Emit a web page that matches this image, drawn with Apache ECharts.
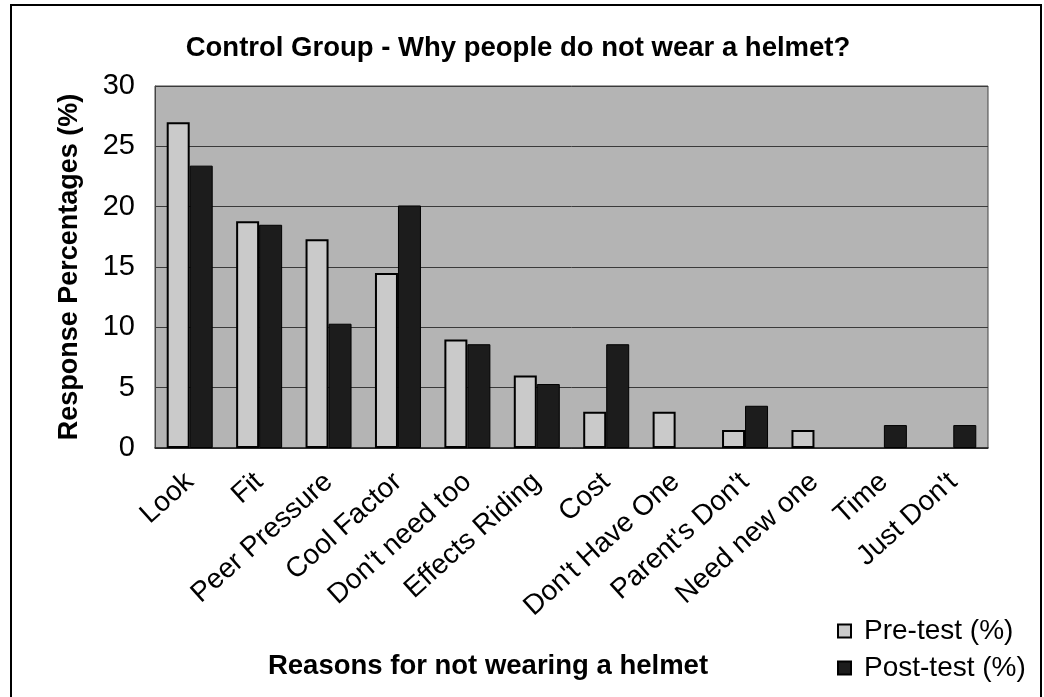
<!DOCTYPE html>
<html>
<head>
<meta charset="utf-8">
<script src="https://cdn.jsdelivr.net/npm/echarts@6/dist/echarts.min.js"></script>
<style>
html,body{margin:0;padding:0;background:#fff;}
#chart{width:1044px;height:697px;}
</style>
</head>
<body>
<div id="chart"></div>
<script>
const categories = ['Look', 'Fit', 'Peer Pressure', 'Cool Factor', "Don't need too", 'Effects Riding', 'Cost', "Don't Have One", "Parent's Don't", 'Need new one', 'Time', "Just Don't"];
const preTest = [27.0, 18.8, 17.3, 14.5, 9.0, 6.0, 3.0, 3.0, 1.5, 1.5, null, null];
const postTest = [23.4, 18.5, 10.3, 20.1, 8.6, 5.3, 8.6, null, 3.5, null, 1.9, 1.9];
const yTicks = { min: 0, max: 30, interval: 5 };
const seriesNames = ['Pre-test (%)', 'Post-test (%)'];
const titleText = 'Control Group - Why people do not wear a helmet?';
const xTitle = 'Reasons for not wearing a helmet';
const yTitle = 'Response Percentages (%)';

const FONT = "'Liberation Sans', Arial, Helvetica, sans-serif";
const chart = echarts.init(document.getElementById('chart'), null, { renderer: 'canvas' });
chart.setOption({
  backgroundColor: '#ffffff',
  animation: false,
  textStyle: { fontFamily: FONT, color: '#000' },
  title: {
    text: titleText,
    left: 513,
    top: 29,
    textAlign: 'center',
    textStyle: { fontFamily: FONT, fontSize: 27.5, fontWeight: 'bold', color: '#000' }
  },
  graphic: [
    { type: 'rect', shape: { x: 11, y: 5, width: 1030, height: 720 }, style: { fill: 'none', stroke: '#000', lineWidth: 2 }, silent: true },
    { type: 'text', x: 488, y: 666, style: { text: xTitle, fontFamily: FONT, fontSize: 27.5, fontWeight: 'bold', fill: '#000', textAlign: 'center', textVerticalAlign: 'middle' } }
  ],
  legend: {
    data: seriesNames,
    orient: 'vertical',
    left: 832,
    top: 612,
    itemWidth: 13,
    itemHeight: 13,
    itemGap: 9,
    icon: 'rect',
    textStyle: { fontFamily: FONT, fontSize: 28, color: '#000', padding: [0, 0, 0, 8] }
  },
  grid: {
    left: 155, top: 86, right: 56, bottom: 249,
    show: true, backgroundColor: '#b4b4b4', borderColor: '#444', borderWidth: 1
  },
  xAxis: {
    type: 'category',
    data: categories,
    axisLine: { show: true, lineStyle: { color: '#222', width: 1.5 } },
    axisTick: { show: false },
    axisLabel: { interval: 0, rotate: 42, margin: 30, fontFamily: FONT, fontSize: 28, color: '#000' }
  },
  yAxis: {
    type: 'value',
    min: yTicks.min, max: yTicks.max, interval: yTicks.interval,
    name: yTitle,
    nameLocation: 'middle',
    nameGap: 72,
    nameTextStyle: { fontFamily: FONT, fontSize: 27, fontWeight: 'bold', color: '#000' },
    axisLine: { show: true, lineStyle: { color: '#444' } },
    axisTick: { show: false },
    axisLabel: { fontFamily: FONT, fontSize: 29, color: '#000', margin: 20 },
    splitLine: { show: true, lineStyle: { color: '#3a3a3a', width: 1 } }
  },
  series: [
    {
      name: seriesNames[0], type: 'bar', data: preTest,
      barWidth: 23, barGap: '0%',
      itemStyle: { color: '#cacaca', borderColor: '#000', borderWidth: 2 }
    },
    {
      name: seriesNames[1], type: 'bar', data: postTest,
      barWidth: 23, barGap: '0%',
      itemStyle: { color: '#1c1c1c', borderColor: '#000', borderWidth: 1 }
    }
  ]
});
</script>
</body>
</html>
